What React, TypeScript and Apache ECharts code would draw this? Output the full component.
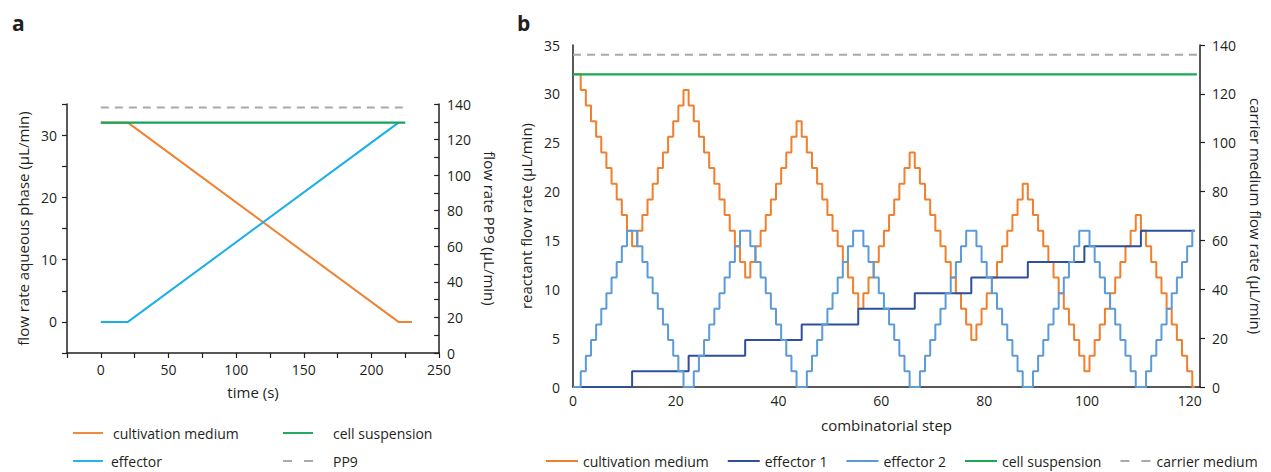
import React, { useEffect, useRef } from "react";
import * as echarts from "echarts";

const FONT = '"Open Sans", "Noto Sans", sans-serif';
const INK = "#231F20";

// ---------- Panel a data ----------
const aCultivationTime = [0, 20, 220, 230];
const aCultivationRate = [32, 32, 0, 0];
const aEffectorTime = [0, 20, 220];
const aEffectorRate = [0, 0, 32];
const aCellTime = [0, 225];
const aCellRate = [32, 32];
const aPP9Time = [0, 225];
const aPP9Rate = [138, 138];

// ---------- Panel b data (combinatorial step 0..121) ----------
const bCultivation = [
  32,
  32, 30.4, 28.8, 27.2, 25.6, 24, 22.4, 20.8, 19.2, 17.6, 16,
  14.4, 16, 17.6, 19.2, 20.8, 22.4, 24, 25.6, 27.2, 28.8, 30.4,
  28.8, 27.2, 25.6, 24, 22.4, 20.8, 19.2, 17.6, 16, 14.4, 12.8,
  11.2, 12.8, 14.4, 16, 17.6, 19.2, 20.8, 22.4, 24, 25.6, 27.2,
  25.6, 24, 22.4, 20.8, 19.2, 17.6, 16, 14.4, 12.8, 11.2, 9.6,
  8, 9.6, 11.2, 12.8, 14.4, 16, 17.6, 19.2, 20.8, 22.4, 24,
  22.4, 20.8, 19.2, 17.6, 16, 14.4, 12.8, 11.2, 9.6, 8, 6.4,
  4.8, 6.4, 8, 9.6, 11.2, 12.8, 14.4, 16, 17.6, 19.2, 20.8,
  19.2, 17.6, 16, 14.4, 12.8, 11.2, 9.6, 8, 6.4, 4.8, 3.2,
  1.6, 3.2, 4.8, 6.4, 8, 9.6, 11.2, 12.8, 14.4, 16, 17.6,
  16, 14.4, 12.8, 11.2, 9.6, 8, 6.4, 4.8, 3.2, 1.6, 0,
];
const bEffector1 = [
  0,
  0, 0, 0, 0, 0, 0, 0, 0, 0, 0, 0,
  1.6, 1.6, 1.6, 1.6, 1.6, 1.6, 1.6, 1.6, 1.6, 1.6, 1.6,
  3.2, 3.2, 3.2, 3.2, 3.2, 3.2, 3.2, 3.2, 3.2, 3.2, 3.2,
  4.8, 4.8, 4.8, 4.8, 4.8, 4.8, 4.8, 4.8, 4.8, 4.8, 4.8,
  6.4, 6.4, 6.4, 6.4, 6.4, 6.4, 6.4, 6.4, 6.4, 6.4, 6.4,
  8, 8, 8, 8, 8, 8, 8, 8, 8, 8, 8,
  9.6, 9.6, 9.6, 9.6, 9.6, 9.6, 9.6, 9.6, 9.6, 9.6, 9.6,
  11.2, 11.2, 11.2, 11.2, 11.2, 11.2, 11.2, 11.2, 11.2, 11.2, 11.2,
  12.8, 12.8, 12.8, 12.8, 12.8, 12.8, 12.8, 12.8, 12.8, 12.8, 12.8,
  14.4, 14.4, 14.4, 14.4, 14.4, 14.4, 14.4, 14.4, 14.4, 14.4, 14.4,
  16, 16, 16, 16, 16, 16, 16, 16, 16, 16, 16,
];
const bEffector2 = [
  0,
  0, 1.6, 3.2, 4.8, 6.4, 8, 9.6, 11.2, 12.8, 14.4, 16,
  16, 14.4, 12.8, 11.2, 9.6, 8, 6.4, 4.8, 3.2, 1.6, 0,
  0, 1.6, 3.2, 4.8, 6.4, 8, 9.6, 11.2, 12.8, 14.4, 16,
  16, 14.4, 12.8, 11.2, 9.6, 8, 6.4, 4.8, 3.2, 1.6, 0,
  0, 1.6, 3.2, 4.8, 6.4, 8, 9.6, 11.2, 12.8, 14.4, 16,
  16, 14.4, 12.8, 11.2, 9.6, 8, 6.4, 4.8, 3.2, 1.6, 0,
  0, 1.6, 3.2, 4.8, 6.4, 8, 9.6, 11.2, 12.8, 14.4, 16,
  16, 14.4, 12.8, 11.2, 9.6, 8, 6.4, 4.8, 3.2, 1.6, 0,
  0, 1.6, 3.2, 4.8, 6.4, 8, 9.6, 11.2, 12.8, 14.4, 16,
  16, 14.4, 12.8, 11.2, 9.6, 8, 6.4, 4.8, 3.2, 1.6, 0,
  0, 1.6, 3.2, 4.8, 6.4, 8, 9.6, 11.2, 12.8, 14.4, 16,
];
const bCellSteps = [0, 121.4];
const bCellRate = [32, 32];
const bCarrierSteps = [0, 121.4];
const bCarrierRate = [136, 136];

const C_ORANGE_A = "#F08232";
const C_CYAN_A = "#1BAFE8";
const C_GREEN_A = "#17A55A";
const C_GRAY = "#A7A9AC";
const C_ORANGE_B = "#F07F2E";
const C_DARK_B = "#2E509A";
const C_LIGHT_B = "#5B9BD8";
const C_GREEN_B = "#1AAA55";

const ICON_SOLID = "path://M0,0H32V2H0Z";
const ICON_DASHED = "path://M0,0H9V2H0Z M21,0H30V2H21Z";

const zip = (xs: number[], ys: number[]) => xs.map((x, i) => [x, ys[i]]);
const indexed = (ys: number[]) => ys.map((y, i) => [i, y]);

const axisLineStyle = { color: INK, width: 1.5 };
const tickStyle = { color: INK, width: 1.2 };
const labelStyle = { color: INK, fontSize: 14, fontFamily: FONT };
const legendText = { color: INK, fontSize: 14, fontFamily: FONT };
const nameStyle = { color: INK, fontSize: 15, fontFamily: FONT };

function singleLegend(name: string, left: number, top: number, padLeft: number, icon: string) {
  return {
    left,
    top,
    padding: 0,
    itemWidth: 30,
    itemHeight: 2,
    icon,
    textStyle: { ...legendText, padding: [0, 0, 0, padLeft] },
    data: [name],
  };
}

function optionA(): any {
  return {
    animation: false,
    textStyle: { fontFamily: FONT, color: INK },
    graphic: [
      {
        type: "text",
        left: 12,
        top: 12,
        style: { text: "a", fontSize: 21, fontWeight: "bold", fontFamily: FONT, fill: INK },
      },
    ],
    grid: { left: 67, top: 104, width: 373, height: 249 },
    legend: [
      singleLegend("cultivation medium", 73, 426, 5, ICON_SOLID),
      singleLegend("effector", 73, 454, 3, ICON_SOLID),
      singleLegend("cell suspension", 283, 426, 15, ICON_SOLID),
      singleLegend("PP9", 283, 454, 15, ICON_DASHED),
    ],
    xAxis: {
      type: "value",
      min: -25,
      max: 250,
      interval: 25,
      name: "time (s)",
      nameLocation: "middle",
      nameGap: 31,
      nameTextStyle: nameStyle,
      axisLine: { onZero: false, lineStyle: axisLineStyle },
      axisTick: { show: true, length: 5, lineStyle: tickStyle },
      axisLabel: { ...labelStyle, margin: 9, formatter: (v: number) => (v % 50 === 0 ? String(v) : "") },
      splitLine: { show: false },
    },
    yAxis: [
      {
        type: "value",
        position: "left",
        min: -5,
        max: 35,
        interval: 5,
        name: "flow rate aqueous phase (µL/min)",
        nameLocation: "middle",
        nameGap: 36,
        nameTextStyle: nameStyle,
        axisLine: { show: true, onZero: false, lineStyle: axisLineStyle },
        axisTick: { show: true, length: 5, lineStyle: tickStyle },
        axisLabel: { ...labelStyle, margin: 10, formatter: (v: number) => (v % 10 === 0 ? String(v) : "") },
        splitLine: { show: false },
      },
      {
        type: "value",
        position: "right",
        min: 0,
        max: 140,
        interval: 10,
        name: "flow rate PP9 (µL/min)",
        nameLocation: "middle",
        nameRotate: -90,
        nameGap: 36,
        nameTextStyle: nameStyle,
        axisLine: { show: true, onZero: false, lineStyle: axisLineStyle },
        axisTick: { show: true, inside: true, length: 5, lineStyle: tickStyle },
        axisLabel: { ...labelStyle, margin: 8, formatter: (v: number) => (v % 20 === 0 ? String(v) : "") },
        splitLine: { show: false },
      },
    ],
    series: [
      {
        name: "cultivation medium",
        type: "line",
        symbol: "none",
        data: zip(aCultivationTime, aCultivationRate),
        lineStyle: { color: C_ORANGE_A, width: 2 },
        itemStyle: { color: C_ORANGE_A },
      },
      {
        name: "effector",
        type: "line",
        symbol: "none",
        data: zip(aEffectorTime, aEffectorRate),
        lineStyle: { color: C_CYAN_A, width: 2 },
        itemStyle: { color: C_CYAN_A },
      },
      {
        name: "cell suspension",
        type: "line",
        symbol: "none",
        data: zip(aCellTime, aCellRate),
        lineStyle: { color: C_GREEN_A, width: 2.2 },
        itemStyle: { color: C_GREEN_A },
      },
      {
        name: "PP9",
        type: "line",
        symbol: "none",
        yAxisIndex: 1,
        data: zip(aPP9Time, aPP9Rate),
        lineStyle: { color: C_GRAY, width: 2, type: [8, 6] },
        itemStyle: { color: C_GRAY },
      },
    ],
  };
}

function optionB(): any {
  return {
    animation: false,
    textStyle: { fontFamily: FONT, color: INK },
    graphic: [
      {
        type: "text",
        left: 12,
        top: 12,
        style: { text: "b", fontSize: 21, fontWeight: "bold", fontFamily: FONT, fill: INK },
      },
    ],
    grid: { left: 68, top: 45, width: 642, height: 342 },
    legend: {
      left: 41,
      top: 454,
      padding: 0,
      itemWidth: 32,
      itemHeight: 2,
      itemGap: 19,
      icon: ICON_SOLID,
      textStyle: legendText,
      data: [
        "cultivation medium",
        "effector 1",
        "effector 2",
        "cell suspension",
        { name: "carrier medium", icon: ICON_DASHED },
      ],
    },
    xAxis: {
      type: "value",
      min: 0,
      max: 122,
      interval: 20,
      name: "combinatorial step",
      nameLocation: "middle",
      nameGap: 30,
      nameTextStyle: nameStyle,
      axisLine: { onZero: false, lineStyle: axisLineStyle },
      axisTick: { show: false },
      axisLabel: { ...labelStyle, margin: 6 },
      splitLine: { show: false },
    },
    yAxis: [
      {
        type: "value",
        position: "left",
        min: 0,
        max: 35,
        interval: 5,
        name: "reactant flow rate (µL/min)",
        nameLocation: "middle",
        nameGap: 34,
        nameTextStyle: nameStyle,
        axisLine: { show: true, onZero: false, lineStyle: axisLineStyle },
        axisTick: { show: false },
        axisLabel: { ...labelStyle, margin: 13 },
        splitLine: { show: false },
      },
      {
        type: "value",
        position: "right",
        min: 0,
        max: 140,
        interval: 20,
        name: "carrier medium flow rate (µL/min)",
        nameLocation: "middle",
        nameRotate: -90,
        nameGap: 48,
        nameTextStyle: nameStyle,
        axisLine: { show: true, onZero: false, lineStyle: axisLineStyle },
        axisTick: { show: true, length: 5, lineStyle: tickStyle },
        axisLabel: { ...labelStyle, margin: 12 },
        splitLine: { show: false },
      },
    ],
    series: [
      {
        name: "cultivation medium",
        type: "line",
        symbol: "none",
        step: "middle",
        data: indexed(bCultivation),
        lineStyle: { color: C_ORANGE_B, width: 2 },
        itemStyle: { color: C_ORANGE_B },
      },
      {
        name: "effector 1",
        type: "line",
        symbol: "none",
        step: "middle",
        data: indexed(bEffector1),
        lineStyle: { color: C_DARK_B, width: 2 },
        itemStyle: { color: C_DARK_B },
      },
      {
        name: "effector 2",
        type: "line",
        symbol: "none",
        step: "middle",
        data: indexed(bEffector2),
        lineStyle: { color: C_LIGHT_B, width: 2 },
        itemStyle: { color: C_LIGHT_B },
      },
      {
        name: "cell suspension",
        type: "line",
        symbol: "none",
        data: zip(bCellSteps, bCellRate),
        lineStyle: { color: C_GREEN_B, width: 2.2 },
        itemStyle: { color: C_GREEN_B },
      },
      {
        name: "carrier medium",
        type: "line",
        symbol: "none",
        yAxisIndex: 1,
        data: zip(bCarrierSteps, bCarrierRate),
        lineStyle: { color: C_GRAY, width: 2, type: [8, 6] },
        itemStyle: { color: C_GRAY },
      },
    ],
  };
}

function Panel({ left, width, option }: { left: number; width: number; option: () => any }) {
  const ref = useRef<HTMLDivElement>(null);
  useEffect(() => {
    if (!ref.current) return;
    const chart = echarts.init(ref.current, undefined, { renderer: "svg" });
    chart.setOption(option());
    return () => chart.dispose();
  }, [option]);
  return (
    <div
      ref={ref}
      style={{ position: "absolute", left, top: 0, width, height: 472 }}
    />
  );
}

export default function App() {
  return (
    <div style={{ position: "fixed", left: 0, top: 0, width: 1271, height: 472, background: "#fff" }}>
      <Panel left={0} width={505} option={optionA} />
      <Panel left={505} width={766} option={optionB} />
    </div>
  );
}
